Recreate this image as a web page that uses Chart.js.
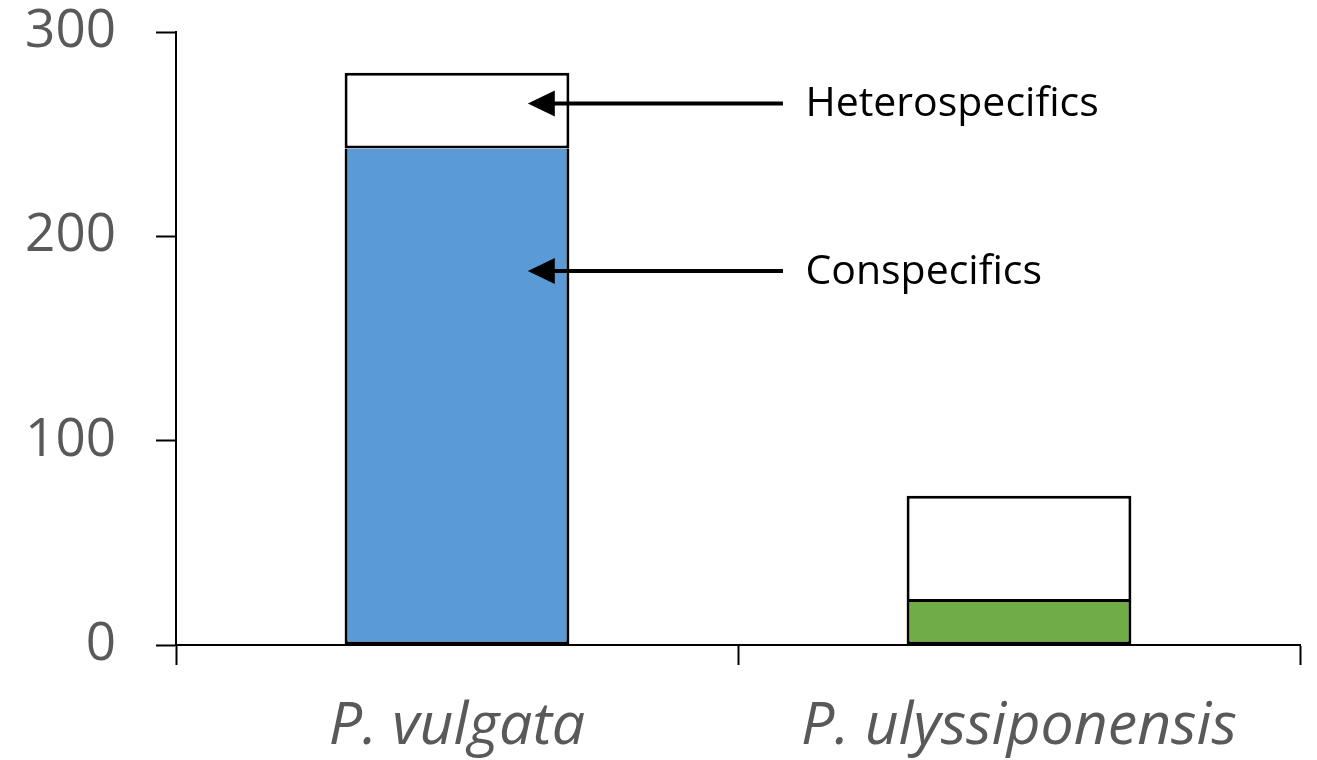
<!DOCTYPE html>
<html>
<head>
<meta charset="utf-8">
<script src="https://cdn.jsdelivr.net/npm/chart.js@4"></script>
<style>
  html, body { margin: 0; padding: 0; background: #fff; }
  #wrap { width: 1317px; height: 760px; }
</style>
</head>
<body>
<div id="wrap"><canvas id="chart" width="1317" height="760"></canvas></div>
<script>
// ---- data ----
const species = ["P. vulgata", "P. ulyssiponensis"];
const conspecifics = [243, 21];
const heterospecifics = [37, 52];
const conspecificColors = ["#5B9BD5", "#70AD47"];
const yTicks = [0, 100, 200, 300];

// arrow labels: text and the y value each arrow points at
const arrowLabels = ["Heterospecifics", "Conspecifics"];
const arrowValues = [265, 183];

// draws the two arrows with their labels next to the first bar
const arrowPlugin = {
    id: "arrows",
    afterDatasetsDraw(chart) {
        const ctx = chart.ctx;
        const x = chart.scales.x;
        const y = chart.scales.y;
        const tip = x.getPixelForValue(0.126);
        const tail = x.getPixelForValue(0.58);
        const textX = x.getPixelForValue(0.62);
        ctx.save();
        arrowLabels.forEach((label, i) => {
            const py = y.getPixelForValue(arrowValues[i]);
            ctx.strokeStyle = "#000";
            ctx.fillStyle = "#000";
            ctx.lineWidth = 4;
            ctx.beginPath();
            ctx.moveTo(tail, py);
            ctx.lineTo(tip + 20, py);
            ctx.stroke();
            ctx.beginPath();
            ctx.moveTo(tip, py);
            ctx.lineTo(tip + 27, py - 13);
            ctx.lineTo(tip + 27, py + 13);
            ctx.closePath();
            ctx.fill();
            ctx.font = "41px 'Open Sans'";
            ctx.textBaseline = "middle";
            ctx.textAlign = "left";
            ctx.fillText(label, textX, py + 1);
        });
        ctx.restore();
    }
};

new Chart(document.getElementById("chart"), {
    type: "bar",
    data: {
        labels: species,
        datasets: [
            {
                label: "Conspecifics",
                data: conspecifics,
                backgroundColor: conspecificColors,
                borderColor: "#000",
                borderWidth: 3,
                borderSkipped: "top"
            },
            {
                label: "Heterospecifics",
                data: heterospecifics,
                backgroundColor: "#fff",
                borderColor: "#000",
                borderWidth: 3,
                borderSkipped: false
            }
        ]
    },
    options: {
        responsive: false,
        animation: false,
        layout: { padding: { left: 0, right: 17, top: 32, bottom: 0 } },
        datasets: { bar: { barPercentage: 0.4, categoryPercentage: 1 } },
        plugins: {
            legend: { display: false },
            tooltip: { enabled: false }
        },
        scales: {
            x: {
                stacked: true,
                grid: {
                    offset: true,
                    drawOnChartArea: false,
                    drawTicks: true,
                    tickLength: 20,
                    tickWidth: 2,
                    tickColor: "#000"
                },
                border: { display: true, color: "#000", width: 2 },
                ticks: {
                    color: "#595959",
                    padding: 27,
                    font: { family: "'Open Sans'", size: 59, style: "italic" }
                },
                afterFit(scale) { scale.height = 115; }
            },
            y: {
                stacked: true,
                min: 0,
                max: 300,
                afterBuildTicks(scale) {
                    scale.ticks = yTicks.map(v => ({ value: v }));
                },
                grid: {
                    drawOnChartArea: false,
                    drawTicks: true,
                    tickLength: 20,
                    tickWidth: 2,
                    tickColor: "#000"
                },
                border: { display: true, color: "#000", width: 2 },
                ticks: {
                    color: "#595959",
                    padding: 40,
                    font: { family: "'Open Sans'", size: 53 }
                },
                afterFit(scale) {
                    scale.width = 176;
                    scale.paddingTop = 0;
                    scale.paddingBottom = 0;
                }
            }
        }
    },
    plugins: [arrowPlugin]
});
</script>
</body>
</html>
